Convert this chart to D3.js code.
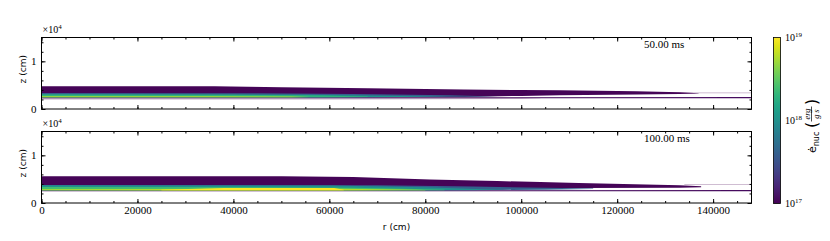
<!DOCTYPE html>
<meta charset="utf-8">
<style>
body { margin: 0; background: #fff; }
.axis path { stroke: none; fill: none; }
.axis line { stroke: #000; stroke-width: 1; }
.axis text { font-family: "Liberation Serif", serif; font-size: 11px; fill: #000; }
.lbl { font-family: "DejaVu Sans", sans-serif; font-size: 9px; fill: #000; }
.serif { font-family: "Liberation Serif", serif; fill: #000; }
</style>
<head>
    <title>Nuclear energy generation rate</title>
</head>
<script src="https://d3js.org/d3.v7.min.js"></script>
<div id="viz"></div>
<script>
// ticks
var rTicks = [0, 20000, 40000, 60000, 80000, 100000, 120000, 140000];
var zTicks = [0, 10000];
var cbarTicks = [1e17, 1e18, 1e19];
var timeLabels = ["50.00 ms", "100.00 ms"];

// each layer: [r, zLow, zHigh] in cm
// 50 ms
var env50   = [[0,2450,4760],[36000,2450,4780],[50000,2450,4550],[68000,2450,4340],[88000,2500,4070],[100000,2750,3980],[108000,2900,3920],[124000,3050,3710],[133000,3150,3500],[137000,3250,3300]];
var low50   = [[0,2240,2450],[90000,2240,2480],[148000,2240,2520]];
var blue50  = [[0,2450,3354],[45000,2450,3330],[65000,2480,3150],[85000,2550,2900],[95000,2600,2620]];
var teal50  = [[0,2450,3018],[55000,2450,2980],[75000,2500,2750],[85000,2560,2580]];
var green50 = [[0,2450,3018],[40000,2450,2990],[58000,2470,2850],[68000,2520,2600]];
var lime50  = [[0,2450,2662],[35000,2450,2680],[52000,2470,2600],[56000,2500,2520]];
var faint50 = [[[0,1970,2240],[60000,2000,2240],[100000,2100,2240],[104000,2200,2240]],
               [[122000,3330,3480],[148000,3330,3480]]];
var vals50  = [1.05e17, 1.15e17, 4e17, 1.1e18, 2e18, 6e18];

// 100 ms
var env100    = [[0,2660,5600],[50000,2660,5600],[65000,2660,5450],[81000,2660,4910],[95000,2800,4600],[104000,3150,4410],[112000,3150,4200],[133000,3200,3720],[137500,3300,3500]];
var low100    = [[0,2450,2660],[148000,2450,2720]];
var blue100   = [[0,2660,3800],[70000,2660,3700],[90000,2700,3450],[105000,2800,3200],[115000,2950,3050]];
var teal100   = [[0,2660,3717],[60000,2660,3650],[80000,2680,3300],[92000,2720,2900],[96000,2750,2760]];
var green100  = [[0,2660,3360],[45000,2660,3330],[65000,2660,3200],[78000,2680,2950],[84000,2700,2760]];
var lime100   = [[0,2660,2877],[30000,2640,2950],[62000,2640,2980],[75000,2660,2850],[80000,2680,2720]];
var yellow100 = [[25000,2700,2800],[38000,2680,3150],[61000,2680,3150],[63000,2700,2800]];
var faint100  = [[[134000,3850,4000],[148000,3850,4000]]];
var vals100   = [1.05e17, 1.15e17, 4e17, 1e18, 2.5e18, 6e18, 1e19];

var panels = [
    {layers: [env50, low50, blue50, teal50, green50, lime50], vals: vals50, faint: faint50},
    {layers: [env100, low100, blue100, teal100, green100, lime100, yellow100], vals: vals100, faint: faint100}
];

var W = 830, H = 241;
var left = 41.5, right = 751.5;
var tops = [37.5, 131.5];
var ph = 71.5;

var svg = d3.select('#viz').append('svg')
    .attr('width', W).attr('height', H);

var x = d3.scaleLinear().domain([0, 148000]).range([0, right - left]);
var color = d3.scaleSequentialLog(d3.interpolateViridis).domain([1e17, 1e19]);

panels.forEach(function(p, i) {
    var y = d3.scaleLinear().domain([0, 15000]).range([ph, 0]);
    var g = svg.append('g').attr('transform', 'translate(' + left + ',' + tops[i] + ')');

    g.append('clipPath').attr('id', 'clip' + i)
        .append('rect').attr('width', x.range()[1]).attr('height', ph);

    var area = d3.area()
        .x(function(d) { return x(d[0]); })
        .y0(function(d) { return y(d[1]); })
        .y1(function(d) { return y(d[2]); });

    var data = g.append('g').attr('clip-path', 'url(#clip' + i + ')');
    data.selectAll('path.faint')
        .data(p.faint).enter().append('path')
        .attr('d', area)
        .attr('fill', color(1e17))
        .attr('opacity', 0.35);
    data.selectAll('path.layer')
        .data(p.layers).enter().append('path')
        .attr('d', area)
        .attr('fill', function(d, j) { return color(p.vals[j]); });

    // minor ticks
    var rMinor = d3.range(0, 148001, 5000);
    var zMinor = d3.range(0, 15001, 2000);
    g.append('g').attr('class', 'axis').attr('transform', 'translate(0,' + ph + ')')
        .call(d3.axisBottom(x).tickValues(rMinor).tickSizeInner(-2).tickSizeOuter(0).tickFormat(''));
    g.append('g').attr('class', 'axis')
        .call(d3.axisTop(x).tickValues(rMinor).tickSizeInner(-2).tickSizeOuter(0).tickFormat(''));
    g.append('g').attr('class', 'axis')
        .call(d3.axisLeft(y).tickValues(zMinor).tickSizeInner(-2).tickSizeOuter(0).tickFormat(''));
    g.append('g').attr('class', 'axis').attr('transform', 'translate(' + x.range()[1] + ',0)')
        .call(d3.axisRight(y).tickValues(zMinor).tickSizeInner(-2).tickSizeOuter(0).tickFormat(''));

    // major ticks
    g.append('g').attr('class', 'axis').attr('transform', 'translate(0,' + ph + ')')
        .call(d3.axisBottom(x).tickValues(rTicks).tickSizeInner(-4).tickSizeOuter(0).tickPadding(3)
            .tickFormat(i == 1 ? d3.format('d') : ''));
    g.append('g').attr('class', 'axis')
        .call(d3.axisTop(x).tickValues(rTicks).tickSizeInner(-4).tickSizeOuter(0).tickFormat(''));
    g.append('g').attr('class', 'axis')
        .call(d3.axisLeft(y).tickValues(zTicks).tickSizeInner(-4).tickSizeOuter(0).tickPadding(5)
            .tickFormat(function(d) { return d / 1e4; }));
    g.append('g').attr('class', 'axis').attr('transform', 'translate(' + x.range()[1] + ',0)')
        .call(d3.axisRight(y).tickValues(zTicks).tickSizeInner(-4).tickSizeOuter(0).tickFormat(''));

    // frame
    g.append('rect').attr('width', x.range()[1]).attr('height', ph)
        .attr('fill', 'none').attr('stroke', '#000').attr('stroke-width', 1);

    // y label
    g.append('text').attr('class', 'lbl')
        .attr('transform', 'translate(-19,' + (ph / 2 - 4) + ') rotate(-90)')
        .attr('text-anchor', 'middle').attr('dy', '0.35em')
        .text('z (cm)');

    // offset text
    var off = g.append('text').attr('class', 'serif').attr('x', 1).attr('y', -4.5)
        .style('font-size', '10px');
    off.append('tspan').text('\u00d710');
    off.append('tspan').attr('dy', -4).style('font-size', '7px').text('4');

    // time label
    g.append('text').attr('class', 'serif')
        .attr('x', 602.5).attr('y', 10.5)
        .style('font-size', '11px')
        .text(timeLabels[i]);
});

// x label
svg.append('text').attr('class', 'lbl')
    .attr('x', (left + right) / 2).attr('y', 229.5)
    .attr('text-anchor', 'middle')
    .text('r (cm)');

// colorbar
var cb = {x: 773.5, w: 7, top: 37.5, bottom: 203.5};
var defs = svg.append('defs');
var grad = defs.append('linearGradient').attr('id', 'cbgrad')
    .attr('x1', 0).attr('y1', 1).attr('x2', 0).attr('y2', 0);
d3.range(0, 1.0001, 0.05).forEach(function(t) {
    grad.append('stop').attr('offset', t).attr('stop-color', d3.interpolateViridis(t));
});
svg.append('rect').attr('x', cb.x).attr('y', cb.top)
    .attr('width', cb.w).attr('height', cb.bottom - cb.top)
    .attr('fill', 'url(#cbgrad)').attr('stroke', '#000').attr('stroke-width', 0.8);

var cy = d3.scaleLog().domain([1e17, 1e19]).range([cb.bottom, cb.top]);
var cbl = svg.append('g').selectAll('text').data(cbarTicks).enter().append('text')
    .attr('class', 'serif')
    .attr('x', cb.x + cb.w + 4.5)
    .attr('y', function(d) { return cy(d) + 3.5; })
    .style('font-size', '10px');
cbl.append('tspan').text('10');
cbl.append('tspan').attr('dy', -4).style('font-size', '7px')
    .text(function(d) { return Math.round(Math.log10(d)); });

// colorbar label, rotated
var lab = svg.append('g').attr('transform', 'translate(812,125) rotate(-90)');
var t1 = lab.append('text').attr('class', 'lbl').attr('x', -28).attr('y', 4)
    .style('font-size', '11px');
t1.append('tspan').text('\u0117');
t1.append('tspan').attr('dy', 2.5).style('font-size', '8px').text('nuc');
lab.append('text').attr('class', 'lbl').attr('x', -3).attr('y', 5)
    .style('font-size', '16px').text('(');
lab.append('text').attr('class', 'serif').attr('x', 11).attr('y', -2.5)
    .attr('text-anchor', 'middle').style('font-size', '8.5px').style('font-style', 'italic').text('erg');
lab.append('line').attr('x1', 3.5).attr('x2', 18.5).attr('y1', -0.5).attr('y2', -0.5)
    .attr('stroke', '#000').attr('stroke-width', 0.7);
lab.append('text').attr('class', 'serif').attr('x', 11).attr('y', 7)
    .attr('text-anchor', 'middle').style('font-size', '8.5px').style('font-style', 'italic').text('g\u2009s');
lab.append('text').attr('class', 'lbl').attr('x', 20).attr('y', 5)
    .style('font-size', '16px').text(')');
</script>
